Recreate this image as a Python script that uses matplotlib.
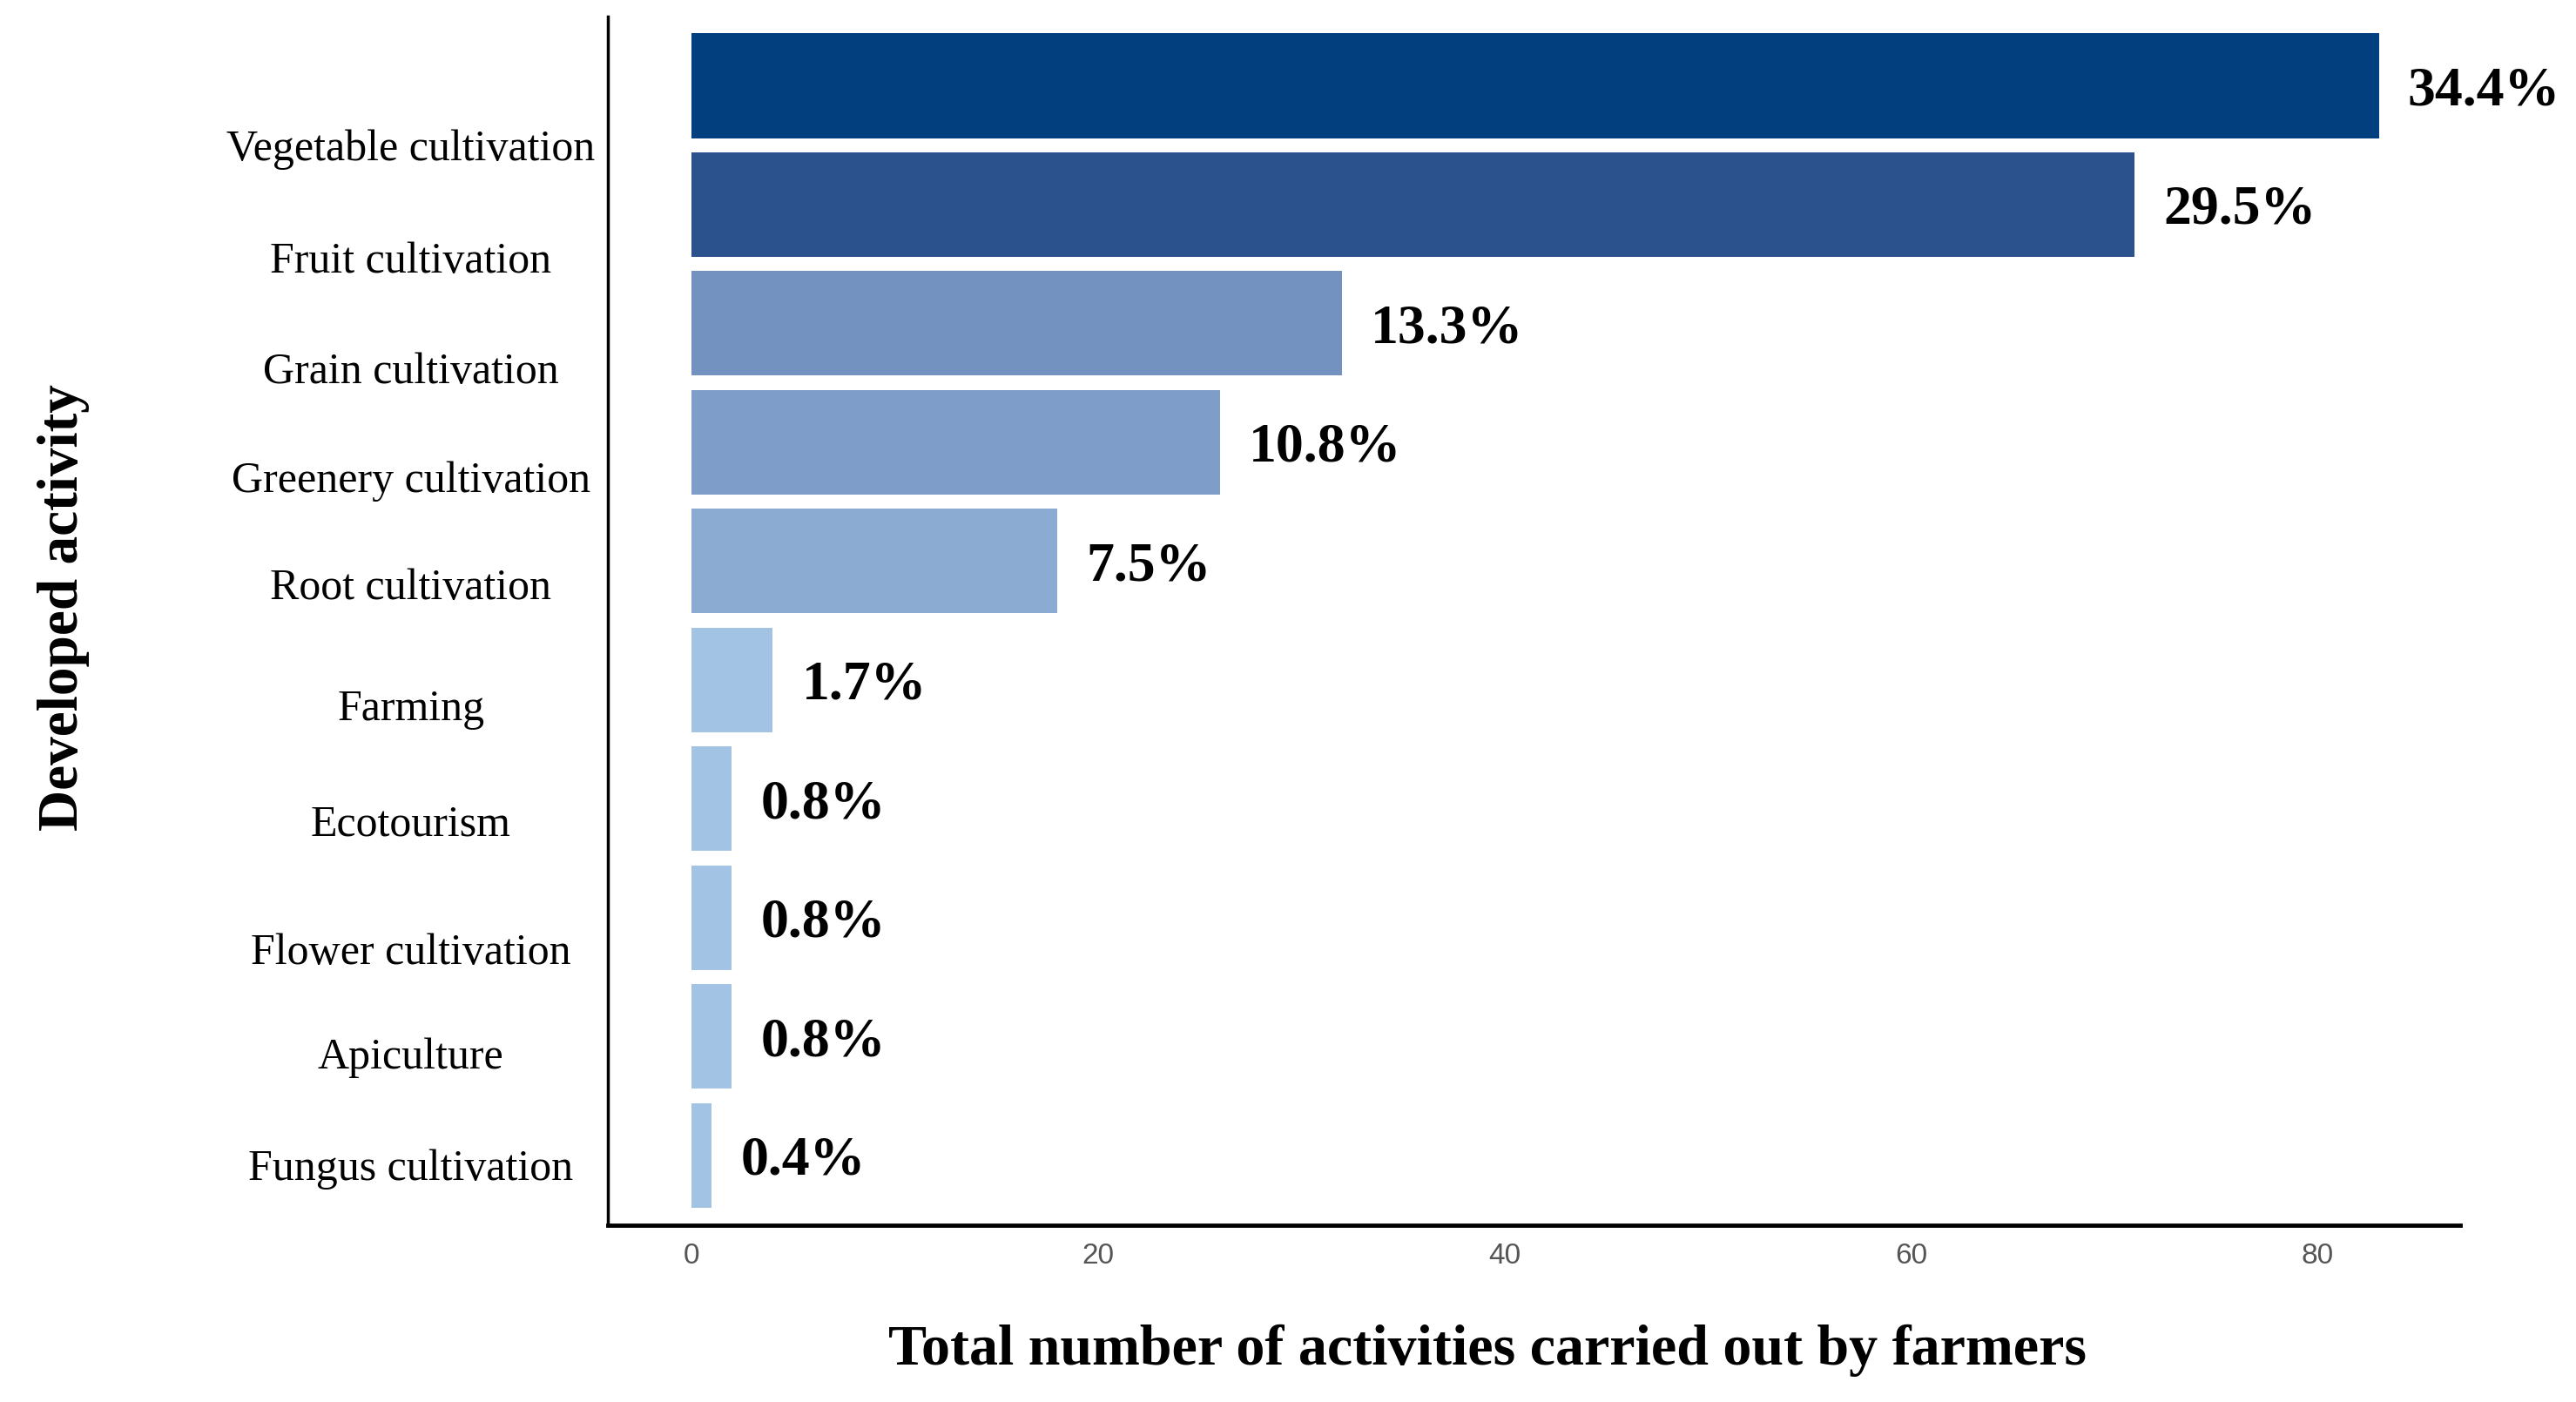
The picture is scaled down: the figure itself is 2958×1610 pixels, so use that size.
import matplotlib
matplotlib.use("Agg")
import matplotlib.pyplot as plt

# data
activities = ["Vegetable cultivation", "Fruit cultivation", "Grain cultivation",
              "Greenery cultivation", "Root cultivation", "Farming", "Ecotourism",
              "Flower cultivation", "Apiculture", "Fungus cultivation"]
counts = [83, 71, 32, 26, 18, 4, 2, 2, 2, 1]
percents = ["34.4%", "29.5%", "13.3%", "10.8%", "7.5%", "1.7%", "0.8%", "0.8%", "0.8%", "0.4%"]
colors = ["#023f7f", "#2b528d", "#7392c0", "#7f9dc9", "#8babd3",
          "#a3c3e5", "#a3c3e5", "#a3c3e5", "#a3c3e5", "#a3c3e5"]

# the category labels sit a bit below each bar in the original
label_shift = [0.5, 0.44, 0.37, 0.29, 0.19, 0.21, 0.18, 0.26, 0.14, 0.08]

plt.rcParams['font.family'] = ['Liberation Serif', 'DejaVu Serif']

fig = plt.figure(figsize=(29.58, 16.10), dpi=100)
ax = fig.add_axes([0.236, 0.126, 0.719, 0.862])

ypos = list(range(len(activities)))
ax.barh(ypos, counts, height=0.88, color=colors)

for y, c, p in zip(ypos, counts, percents):
    ax.annotate(p, xy=(c, y), xytext=(24, -5), textcoords="offset points",
                ha="left", va="center", fontsize=46, fontweight="bold")

ax.set_ylim(9.59, -0.58)
ax.set_xlim(-4.1, 87)

ax.set_yticks([y + s for y, s in zip(ypos, label_shift)])
ax.set_yticklabels(activities, ha="center", fontsize=36)
ax.tick_params(axis="y", length=0, pad=163)

ax.set_xticks([0, 20, 40, 60, 80])
ax.tick_params(axis="x", length=0, pad=14, labelsize=24, labelcolor="#555555")
for t in ax.get_xticklabels():
    t.set_family("Liberation Sans")

for s in ["top", "right"]:
    ax.spines[s].set_visible(False)
ax.spines["left"].set_linewidth(2.5)
ax.spines["bottom"].set_linewidth(3.5)

ax.set_xlabel("Total number of activities carried out by farmers",
              fontsize=47.5, fontweight="bold")
ax.xaxis.set_label_coords(0.475, -0.082)
ax.set_ylabel("Developed activity", fontsize=47, fontweight="bold")
ax.yaxis.set_label_coords(-0.28, 0.511)

fig.savefig("out.png", dpi=100, facecolor="white")
